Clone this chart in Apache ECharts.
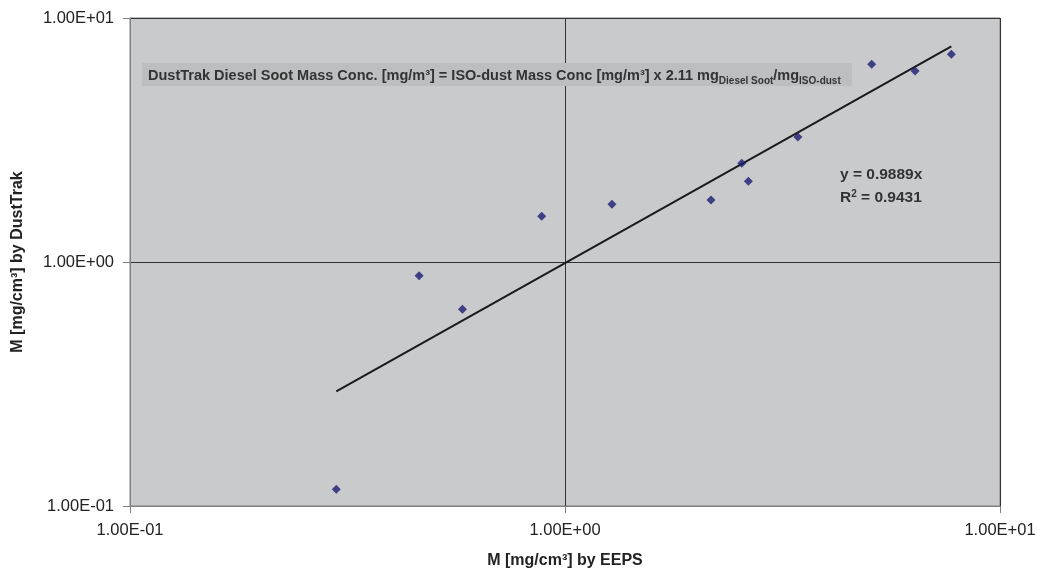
<!DOCTYPE html>
<html>
<head>
<meta charset="utf-8">
<script src="https://cdn.jsdelivr.net/npm/echarts@6/dist/echarts.min.js"></script>
<style>
html, body { margin: 0; padding: 0; background: #fff; }
#main { width: 1037px; height: 575px; }
</style>
</head>
<body>
<div id="main"></div>
<script>
// EEPS vs DustTrak mass concentration
var eepsX = [0.298, 0.462, 0.581, 0.884, 1.282, 2.166, 2.549, 2.64, 3.43, 5.07, 6.38, 7.73];
var dustY = [0.117, 0.879, 0.641, 1.54, 1.724, 1.795, 2.538, 2.142, 3.25, 6.46, 6.06, 7.10];
// linear trend through origin, y = 0.9889x
var trendX = [0.298, 7.73];
var trendY = [0.295, 7.644];
var axisMin = 0.1, axisMax = 10;
var xName = 'M [mg/cm³] by EEPS';
var yName = 'M [mg/cm³] by DustTrak';
var fitLabel = 'y = 0.9889x';
var r2Label = '0.9431';

var font = 'Arial, "Liberation Sans", sans-serif';

function expLabel(v) {
    var e = Math.round(Math.log10(v));
    var m = v / Math.pow(10, e);
    var s = Math.abs(e) < 10 ? '0' + Math.abs(e) : '' + Math.abs(e);
    return m.toFixed(2) + 'E' + (e < 0 ? '-' : '+') + s;
}

var points = [];
for (var i = 0; i < eepsX.length; i++) {
    points.push([eepsX[i], dustY[i]]);
}
var trend = [];
for (var j = 0; j < trendX.length; j++) {
    trend.push([trendX[j], trendY[j]]);
}

var chart = echarts.init(document.getElementById('main'));
var axisCommon = {
    type: 'log',
    logBase: 10,
    min: axisMin,
    max: axisMax,
    nameLocation: 'middle',
    nameTextStyle: { fontFamily: font, fontSize: 16, fontWeight: 'bold', color: '#222' },
    axisLine: { show: true, lineStyle: { color: '#808080', width: 1 } },
    axisTick: { show: true, inside: false, length: 7, lineStyle: { color: '#808080' } },
    minorTick: { show: false },
    axisLabel: {
        fontFamily: font, fontSize: 16.5, color: '#222',
        formatter: function (v) { return expLabel(v); }
    },
    splitLine: { show: true, lineStyle: { color: '#333', width: 1 } }
};

var option = {
    animation: false,
    backgroundColor: '#fff',
    grid: {
        left: 130, right: 37, top: 18, bottom: 69,
        containLabel: false,
        outerBoundsMode: 'none',
        show: true, backgroundColor: '#c9cacc', borderColor: '#808080', borderWidth: 1
    },
    xAxis: Object.assign({}, axisCommon, {
        name: xName,
        nameGap: 47,
        axisLabel: Object.assign({}, axisCommon.axisLabel, { margin: 16 })
    }),
    yAxis: Object.assign({}, axisCommon, {
        name: yName,
        nameGap: 104,
        axisLabel: Object.assign({}, axisCommon.axisLabel, { margin: 16 })
    }),
    series: [
        {
            type: 'line',
            data: trend,
            symbol: 'none',
            lineStyle: { color: '#1a1a1a', width: 2 },
            z: 3
        },
        {
            type: 'scatter',
            data: points,
            symbol: 'diamond',
            symbolSize: 9,
            itemStyle: { color: '#1c1c72' },
            z: 4
        }
    ],
    graphic: [
        {
            type: 'rect',
            shape: { x: 142, y: 63, width: 710, height: 23 },
            style: { fill: '#bdbec0' },
            z: 10
        },
        {
            type: 'text',
            x: 148, y: 74,
            style: {
                text: '{b|DustTrak Diesel Soot Mass Conc. [mg/m³] = ISO-dust Mass Conc [mg/m³] x 2.11 mg}{s|Diesel Soot}{b|/mg}{s|ISO-dust}',
                verticalAlign: 'middle',
                rich: {
                    b: { fontFamily: font, fontSize: 14.5, fontWeight: 'bold', fill: '#333', verticalAlign: 'bottom', lineHeight: 18 },
                    s: { fontFamily: font, fontSize: 10, fontWeight: 'bold', fill: '#333', verticalAlign: 'bottom', lineHeight: 13, padding: [0, 0, -3, 0] }
                }
            },
            z: 11
        },
        {
            type: 'text',
            x: 840, y: 175,
            style: {
                text: fitLabel,
                font: 'bold 15.5px ' + font,
                fill: '#333',
                verticalAlign: 'middle'
            },
            z: 11
        },
        {
            type: 'text',
            x: 840, y: 199,
            style: {
                text: '{b|R}{p|2}{b| = ' + r2Label + '}',
                verticalAlign: 'middle',
                rich: {
                    b: { fontFamily: font, fontSize: 15.5, fontWeight: 'bold', fill: '#333', verticalAlign: 'top', lineHeight: 19 },
                    p: { fontFamily: font, fontSize: 10, fontWeight: 'bold', fill: '#333', verticalAlign: 'top', lineHeight: 12 }
                }
            },
            z: 11
        }
    ]
};
chart.setOption(option);
</script>
</body>
</html>
